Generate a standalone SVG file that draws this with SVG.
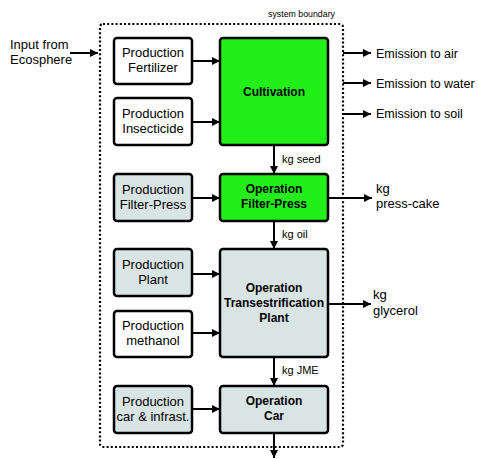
<svg xmlns="http://www.w3.org/2000/svg" width="478" height="459" viewBox="0 0 478 459">
<defs>
<style>
text{font-family:"Liberation Sans",Arial,sans-serif;fill:#000}
.box{stroke:#000;stroke-width:2.5}
.w{fill:#fff}
.g{fill:#22ee1a}
.s{fill:#d9e4e4}
.t{font-size:13px;text-anchor:middle}
.b{font-size:12px;font-weight:bold;text-anchor:middle}
.o{font-size:13px}
.e{font-size:12.5px}
.k{font-size:11px}
.ln{stroke:#000;stroke-width:2;fill:none}
</style>
<marker id="ah" viewBox="0 0 10 10" refX="10" refY="5" markerWidth="4" markerHeight="4" orient="auto" markerUnits="strokeWidth">
<path d="M0,0 L10,5 L0,10 z" fill="#000"/>
</marker>
</defs>
<rect width="478" height="459" fill="#fff"/>
<g id="boundary">
<rect x="100" y="24" width="243" height="423" rx="3" fill="none" stroke="#000" stroke-width="2.2" stroke-dasharray="2,2.2"/>
<text x="268" y="17" style="font-size:8.8px">system boundary</text>
</g>
<g id="input">
<text class="o" x="10" y="49">Input from</text>
<text class="o" x="10" y="64">Ecosphere</text>
</g>
<g id="fert"><rect class="box w" x="114" y="38" width="78" height="46" rx="3"/><text class="t" x="153" y="57">Production</text><text class="t" x="153" y="72">Fertilizer</text></g>
<g id="insect"><rect class="box w" x="114" y="98" width="78" height="47" rx="3"/><text class="t" x="153" y="118">Production</text><text class="t" x="153" y="133">Insecticide</text></g>
<g id="cult"><rect class="box g" x="220" y="38" width="108" height="107" rx="3"/><text class="b" x="274" y="96">Cultivation</text></g>
<g id="pfp"><rect class="box s" x="114" y="174" width="78" height="47" rx="3"/><text class="t" x="153" y="194">Production</text><text class="t" x="153" y="209">Filter-Press</text></g>
<g id="ofp"><rect class="box g" x="220" y="174" width="108" height="47" rx="3"/><text class="b" x="274" y="193">Operation</text><text class="b" x="274" y="208">Filter-Press</text></g>
<g id="pplant"><rect class="box s" x="114" y="249" width="78" height="47" rx="3"/><text class="t" x="153" y="269">Production</text><text class="t" x="153" y="284">Plant</text></g>
<g id="pmeth"><rect class="box w" x="114" y="311" width="78" height="46" rx="3"/><text class="t" x="153" y="330">Production</text><text class="t" x="153" y="345">methanol</text></g>
<g id="otp"><rect class="box s" x="220" y="249" width="108" height="108" rx="3"/><text class="b" x="274" y="292">Operation</text><text class="b" x="274" y="307">Transestrification</text><text class="b" x="274" y="322">Plant</text></g>
<g id="pcar"><rect class="box s" x="114" y="386" width="78" height="47" rx="3"/><text class="t" x="153" y="406">Production</text><text class="t" x="153" y="421">car &amp; infrast.</text></g>
<g id="ocar"><rect class="box s" x="220" y="386" width="108" height="47" rx="3"/><text class="b" x="274" y="405">Operation</text><text class="b" x="274" y="420">Car</text></g>
<g id="outputs">
<text class="e" x="376" y="58">Emission to air</text>
<text class="e" x="376" y="88">Emission to water</text>
<text class="e" x="376" y="118">Emission to soil</text>
<text class="o" x="376" y="193">kg</text>
<text class="o" x="376" y="208">press-cake</text>
<text class="o" x="373" y="299">kg</text>
<text class="o" x="373" y="315">glycerol</text>
</g>
<g id="connectors">
<line class="ln" x1="70" y1="53" x2="98" y2="53" marker-end="url(#ah)"/>
<line class="ln" x1="192" y1="61" x2="220" y2="61" marker-end="url(#ah)"/>
<line class="ln" x1="192" y1="122" x2="220" y2="122" marker-end="url(#ah)"/>
<line class="ln" x1="343" y1="53" x2="371" y2="53" marker-end="url(#ah)"/>
<line class="ln" x1="343" y1="83" x2="371" y2="83" marker-end="url(#ah)"/>
<line class="ln" x1="343" y1="114" x2="371" y2="114" marker-end="url(#ah)"/>
<line class="ln" x1="274" y1="145" x2="274" y2="174" marker-end="url(#ah)"/>
<line class="ln" x1="192" y1="198" x2="220" y2="198" marker-end="url(#ah)"/>
<line class="ln" x1="328" y1="198" x2="372" y2="198" marker-end="url(#ah)"/>
<line class="ln" x1="274" y1="221" x2="274" y2="249" marker-end="url(#ah)"/>
<line class="ln" x1="192" y1="274" x2="220" y2="274" marker-end="url(#ah)"/>
<line class="ln" x1="192" y1="333" x2="220" y2="333" marker-end="url(#ah)"/>
<line class="ln" x1="328" y1="304" x2="371" y2="304" marker-end="url(#ah)"/>
<line class="ln" x1="274" y1="357" x2="274" y2="386" marker-end="url(#ah)"/>
<line class="ln" x1="192" y1="409" x2="220" y2="409" marker-end="url(#ah)"/>
<line class="ln" x1="274" y1="433" x2="274" y2="458" marker-end="url(#ah)"/>
<text class="k" x="282" y="163">kg seed</text>
<text class="k" x="282" y="238">kg oil</text>
<text class="k" x="282" y="374">kg JME</text>
</g>
</svg>
